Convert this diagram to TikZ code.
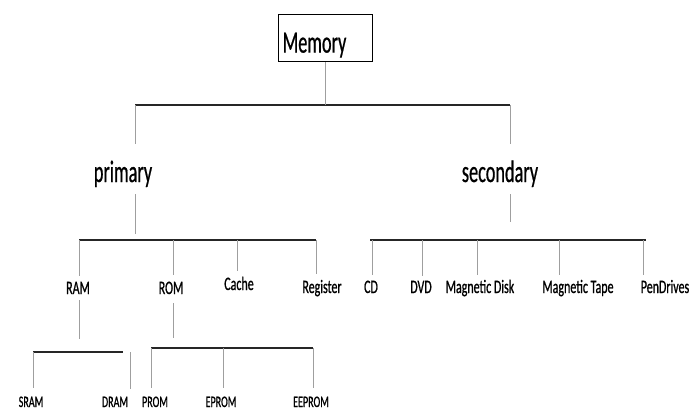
\documentclass[tikz,border=0pt]{standalone}
\usepackage{fontspec}
\newfontfamily\bigfont[FakeStretch=0.59,FakeBold=0.6]{Carlito}
\newfontfamily\smallfont[FakeStretch=0.63,FakeBold=0.8]{Carlito}
\usetikzlibrary{positioning,calc}

\begin{document}
\begin{tikzpicture}[x=1pt,y=-1pt,
  big/.style={font=\bigfont\fontsize{31}{31}\selectfont,inner sep=0pt,anchor=base},
  mid/.style={font=\smallfont\fontsize{19}{19}\selectfont,inner sep=0pt,anchor=base},
  low/.style={font=\smallfont\fontsize{16}{16}\selectfont,inner sep=0pt,anchor=base},
  bus/.style={line width=1.3pt,black!85},
  drop/.style={line width=0.9pt,gray!75}]
  \useasboundingbox (0,0) rectangle (694,410);
  % root box
  \node[big,draw,line width=1.2pt,anchor=north west,inner xsep=4pt,inner ysep=0pt,
        text width=86pt,align=left,text height=38pt,text depth=9pt] (memory) at (278,14) {Memory};
  % first level
  \node[big] (primary) at (123,182) {primary};
  \node[big] (secondary) at (500,182) {secondary};
  % second level
  \node[mid] (ram) at (78,294) {RAM};
  \node[mid] (rom) at (171,294) {ROM};
  \node[mid] (cache) at (239,290) {Cache};
  \node[mid] (register) at (322,293) {Register};
  \node[mid] (cd) at (371,293) {CD};
  \node[mid] (dvd) at (421,293) {DVD};
  \node[mid] (mdisk) at (480,293) {Magnetic Disk};
  \node[mid] (mtape) at (578,293) {Magnetic Tape};
  \node[mid] (pen) at (665,293) {PenDrives};
  % third level
  \node[low] (sram) at (31,407) {SRAM};
  \node[low] (dram) at (115,407) {DRAM};
  \node[low] (prom) at (155,407) {PROM};
  \node[low] (eprom) at (221,407) {EPROM};
  \node[low] (eeprom) at (311,407) {EEPROM};

  % memory -> primary, secondary
  \coordinate (b0l) at (135,105);
  \coordinate (b0r) at (510,105);
  \draw[bus] (b0l) -- (b0r);
  \draw[drop] (memory.south) -- (memory.south |- b0l);
  \draw[drop,shorten >=16pt] (b0l) -- (b0l |- primary.north);
  \draw[drop,shorten >=16pt] (b0r) -- (b0r |- secondary.north);

  % primary -> RAM, ROM, Cache, Register
  \coordinate (b1l) at (79,240);
  \coordinate (b1r) at (316,240);
  \draw[bus] (b1l) -- (b1r);
  \draw[drop,shorten <=7pt,shorten >=6pt] (b0l |- primary.south) -- (b0l |- b1l);
  \foreach \n/\x in {ram/79,rom/173,cache/237,register/316}
    \draw[drop,shorten >=6pt] (\x,240) coordinate (d-\n) -- (d-\n |- \n.north);

  % secondary -> storage devices
  \coordinate (b2l) at (370,240);
  \coordinate (b2r) at (646,240);
  \draw[bus] (b2l) -- (b2r);
  \draw[drop,shorten <=7pt,shorten >=18pt] (b0r |- secondary.south) -- (b0r |- b2l);
  \foreach \n/\x in {cd/372,dvd/422,mdisk/477,mtape/559,pen/643}
    \draw[drop,shorten >=5pt] (\x,240) coordinate (d-\n) -- (d-\n |- \n.north);

  % RAM -> SRAM, DRAM
  \coordinate (b3l) at (33,352);
  \coordinate (b3r) at (123,352);
  \draw[bus] (b3l) -- (b3r);
  \draw[drop,shorten <=6pt,shorten >=13pt] (ram.south -| d-ram) -- (d-ram |- b3l);
  \foreach \n/\x in {sram/33,dram/130}
    \draw[drop,shorten >=8pt] (\x,352) coordinate (d-\n) -- (d-\n |- \n.north);

  % ROM -> PROM, EPROM, EEPROM
  \coordinate (b4l) at (151,348);
  \coordinate (b4r) at (313,348);
  \draw[bus] (b4l) -- (b4r);
  \draw[drop,shorten <=9pt,shorten >=10pt] (rom.south -| d-rom) -- (d-rom |- b4l);
  \foreach \n/\x in {prom/151,eprom/223,eeprom/313}
    \draw[drop,shorten >=8pt] (\x,348) coordinate (d-\n) -- (d-\n |- \n.north);
\end{tikzpicture}
\end{document}
